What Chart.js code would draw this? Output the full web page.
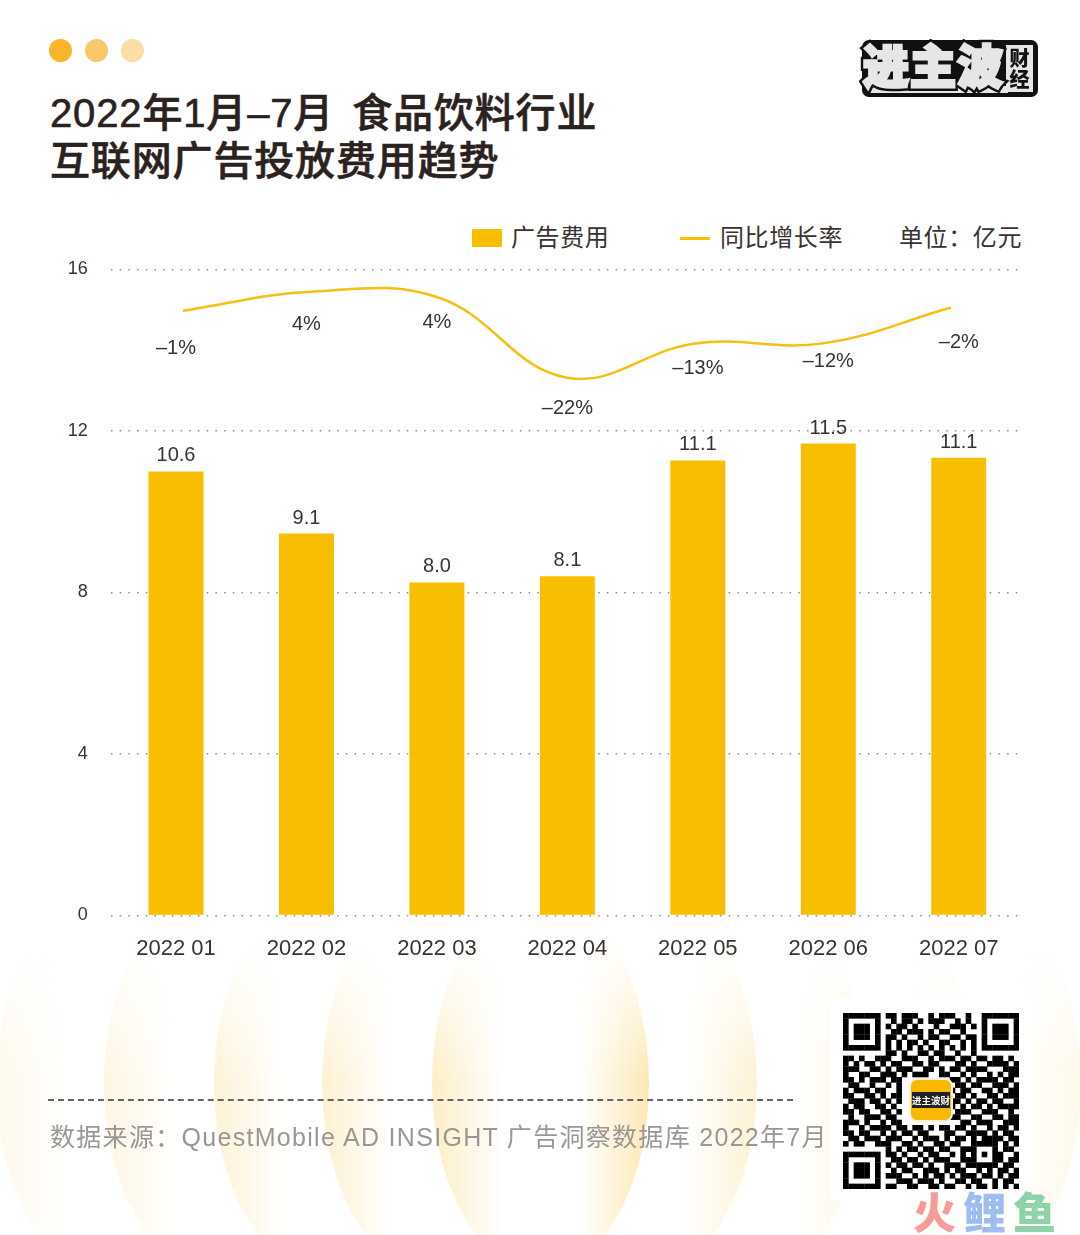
<!DOCTYPE html>
<html lang="zh-CN">
<head>
<meta charset="utf-8">
<title>食品饮料行业互联网广告投放费用趋势</title>
<script src="https://cdn.jsdelivr.net/npm/chart.js"></script>
<style>
  html, body { margin: 0; padding: 0; background: #fff; }
  #page { position: relative; width: 1080px; height: 1235px; overflow: hidden;
    font-family: "Liberation Sans", "Noto Sans CJK SC", sans-serif; color: #2f2725; }
  #page > * { position: absolute; }
  #LineChart { left: 0; top: 0; z-index: 2; }
  .dot { width: 23px; height: 23px; border-radius: 50%; top: 39px; }
  .title { left: 50px; font-size: 40px; line-height: 48px; font-weight: 500; white-space: nowrap; letter-spacing: .85px; word-spacing: 6px; color: #2b2220; -webkit-text-stroke: .6px #2b2220; }
  .leg { font-size: 24px; line-height: 30px; top: 223px; white-space: nowrap; letter-spacing: .6px; color: #3a3230; }
  #petals { left: 0; top: 895px; width: 1080px; height: 340px; overflow: hidden; z-index: 0;
    -webkit-mask-image: linear-gradient(to bottom, transparent 40px, #000 185px);
    mask-image: linear-gradient(to bottom, transparent 40px, #000 185px); }
  #petals div { position: absolute; top: 0; width: 217px; height: 376px; border-radius: 50%; }
  #rule { left: 48px; top: 1099px; width: 745px; height: 0; border-top: 2px dashed #666; z-index: 3; }
  #source { left: 50px; top: 1121px; font-size: 25px; line-height: 32px; color: #9a9693; white-space: nowrap; z-index: 3; letter-spacing: 1.3px; }
  #qrbox { left: 830px; top: 998px; width: 202px; height: 202px; background: #fff; z-index: 3; border-radius: 4px; }
  #qr { left: 13px; top: 15px; position: absolute; }
  #qrlogo { position: absolute; left: 79px; top: 80px; width: 40px; height: 40px; background: #fbb800; border: 2px solid #f6efdc; border-radius: 8px;
    box-sizing: content-box; font: 700 9.5px "Noto Sans CJK SC"; color: #fff; text-align: center; line-height: 40px; white-space: nowrap; }
  #qrlogo span { background: #222; padding: 1px 0; }
  #logo { left: 860px; top: 32px; width: 180px; height: 66px; z-index: 3; }
  #logo .base { position: absolute; left: 2px; top: 8px; width: 176px; height: 57px; background: #111; border-radius: 7px; }
  #logo .strip { position: absolute; left: 8px; top: 54px; width: 140px; height: 7px; background: #e6e6e6; }
  #logo .box { position: absolute; left: 146px; top: 13px; width: 27px; height: 47px; background: #e6e6e6; }
  #logo .glyph { position: absolute; left: 3px; top: -2px; font: 900 46px/66px "Noto Sans CJK SC"; letter-spacing: 1px; white-space: nowrap; }
  #logo .small { position: absolute; left: 147px; top: 15px; width: 25px; font: 900 20px/21px "Noto Sans CJK SC"; color: #111; text-align: center; }
  #fish { left: 913px; top: 1185px; font: 900 43px/50px "Noto Sans CJK SC"; letter-spacing: 7px; z-index: 4; white-space: nowrap; }
</style>
</head>
<body>
<div id="page">
  <div id="petals"></div>
  <div class="dot" style="left:49px;background:#f9b52b"></div>
  <div class="dot" style="left:85px;background:#fbc76c"></div>
  <div class="dot" style="left:121px;background:#fcdda4"></div>
  <div class="title" style="top:89px">2022年1月–7月 食品饮料行业</div>
  <div class="title" style="top:137px">互联网广告投放费用趋势</div>

  <div id="logo">
    <div class="base"></div>
    <div class="strip"></div>
    <div class="box"></div>
    <div class="glyph" style="-webkit-text-stroke:8px #111;color:#111">进主波</div>
    <div class="glyph" style="-webkit-text-stroke:3px #e6e6e6;color:#e6e6e6">进主波</div>
    <div class="small">财<br>经</div>
  </div>

  <div style="left:472px;top:229px;width:30px;height:18px;background:#f7bf00"></div>
  <div class="leg" style="left:511px">广告费用</div>
  <div style="left:680px;top:236.5px;width:30px;height:3.5px;background:#f7bf00"></div>
  <div class="leg" style="left:720px">同比增长率</div>
  <div class="leg" style="left:899px">单位：亿元</div>

  <canvas id="LineChart" width="1080" height="1235"></canvas>

  <div id="rule"></div>
  <div id="source">数据来源：QuestMobile AD INSIGHT 广告洞察数据库 2022年7月</div>
  <div id="qrbox">
    <canvas id="qr" width="176" height="176"></canvas>
    <div id="qrlogo"><span>进主波财</span></div>
  </div>
  <div id="fish"><span style="color:#f99a9a">火</span><span style="color:#9dbdf2">鲤</span><span style="color:#8fd3a8">鱼</span></div>
</div>

<script>
const months = ["2022 01", "2022 02", "2022 03", "2022 04", "2022 05", "2022 06", "2022 07"];
// bar heights as drawn in the picture (they sit a bit above the printed numbers)
const adCost = [11.0, 9.46, 8.25, 8.4, 11.27, 11.69, 11.34];
const adCostLabels = ["10.6", "9.1", "8.0", "8.1", "11.1", "11.5", "11.1"];
// line height read against the left axis
const growth = [14.98, 15.45, 15.3, 13.32, 14.17, 14.17, 15.06];
const growthLabels = ["–1%", "4%", "4%", "–22%", "–13%", "–12%", "–2%"];
const yTicks = [0, 4, 8, 12, 16];

const qrRows = [
  "111111101101110010111001001111111",
  "100000100101101011100101001000001",
  "101110101011010001001110101011101",
  "101110100110111010110010001011101",
  "101110101101001011001101101011101",
  "100000101010110100110010101000001",
  "111111101010101010101010101111111",
  "000000001101001101100100100000000",
  "110100111001110010111011011011010",
  "101011010110011011000110100111101",
  "111001101011100110101101111000111",
  "100110011101011100110010100101011",
  "110101110110000000001101011110110",
  "011001001010000000000110110011101",
  "101110110010000000001011001101011",
  "110011010110000000000110100110111",
  "011101101010000000001101011011001",
  "101100110100000000001010110101111",
  "110110011010000000000111001110010",
  "010011101100000000001100110011011",
  "111010010110000000000011011100111",
  "100101111011011010110110100101101",
  "110110010101101100011001111010110",
  "011011101110010111010110101111011",
  "101100111001101001101100111110101",
  "000000001010110110110011100010110",
  "111111101101001011001010101011001",
  "100000100110110101110011100011011",
  "101110101011011010011101111110110",
  "101110100101100111010110010101101",
  "101110101110010101101011101101011",
  "100000100011101110100110110010110",
  "111111101100110011011001011010101",
];

// petals behind the footer: centre x, left edge glow, right edge glow
const petals = [[104, 0.16, 0], [212, 0.22, 0], [322, 0.3, 0], [430, 0.34, 0], [540, 0.42, 0.55], [648, 0, 0.32], [756, 0, 0.22], [864, 0, 0.16], [972, 0, 0.16]];
const petalBox = document.getElementById("petals");
petals.forEach(([cx, a, b]) => {
  const d = document.createElement("div");
  d.style.left = (cx - 108.5) + "px";
  d.style.background = `linear-gradient(90deg, rgba(249,214,120,${a}) 0%, rgba(249,214,120,0) 32%, rgba(249,214,120,0) 68%, rgba(249,214,120,${b}) 100%)`;
  petalBox.appendChild(d);
});

const qrCtx = document.getElementById("qr").getContext("2d");
const cell = 176 / 33;
qrRows.forEach((row, r) => {
  [...row].forEach((c, i) => {
    if (c === "1") {
      qrCtx.fillStyle = "#000";
      qrCtx.fillRect(i * cell, r * cell, cell + 0.3, cell + 0.3);
    }
  });
});

// text above the bars and under the line, offsets are how far each rate label sits under its point
const rateOffsets = [38, 33, 25, 31, 25, 18, 35];
const valueLabels = {
  id: "valueLabels",
  afterDatasetsDraw(chart) {
    const ctx = chart.ctx;
    const bars = chart.getDatasetMeta(0).data;
    const points = chart.getDatasetMeta(1).data;
    ctx.save();
    ctx.font = "20px 'Liberation Sans'";
    ctx.fillStyle = "#3a3230";
    ctx.textAlign = "center";
    ctx.textBaseline = "middle";
    bars.forEach((bar, i) => {
      ctx.fillText(adCostLabels[i], bar.x, bar.y - 15.5);
      ctx.fillText(growthLabels[i], bar.x, points[i].y + rateOffsets[i]);
    });
    ctx.restore();
  },
};

new Chart(document.getElementById("LineChart").getContext("2d"), {
  data: {
    labels: months,
    datasets: [
      {
        type: "bar",
        label: "广告费用",
        data: adCost,
        backgroundColor: "#f7bf00",
        grouped: false,
        maxBarThickness: 55,
        order: 2,
      },
      {
        type: "line",
        label: "同比增长率",
        data: growth.map((v, i) => ({ x: i, y: v })),
        xAxisID: "xLine",
        borderColor: "#f6bf12",
        borderWidth: 2.5,
        pointRadius: 0,
        tension: 0.4,
        fill: false,
        order: 1,
      },
    ],
  },
  options: {
    responsive: false,
    animation: false,
    layout: { padding: { left: 0, right: 56, top: 269.5, bottom: 0 } },
    plugins: { legend: { display: false }, tooltip: { enabled: false } },
    scales: {
      x: {
        afterFit: (s) => { s.height = 319.5; },
        grid: { display: false },
        border: { display: false },
        ticks: { font: { family: "Liberation Sans", size: 22 }, color: "#3a3230", padding: 12.5, maxRotation: 0 },
      },
      // the line starts and ends inside the bar centres, so it gets its own hidden axis
      xLine: { type: "linear", display: false, min: -0.564, max: 6.57 },
      y: {
        min: 0,
        max: 16,
        afterFit: (s) => { s.width = 110.75; },
        afterBuildTicks: (s) => { s.ticks = yTicks.map((v) => ({ value: v })); },
        grid: { color: "#8d8d8d", lineWidth: 1.5, drawTicks: false },
        border: { display: false, dash: [1.5, 7.2] },
        ticks: { font: { family: "Liberation Sans", size: 18 }, color: "#3a3230", padding: 23 },
      },
    },
  },
  plugins: [valueLabels],
});
</script>
</body>
</html>
